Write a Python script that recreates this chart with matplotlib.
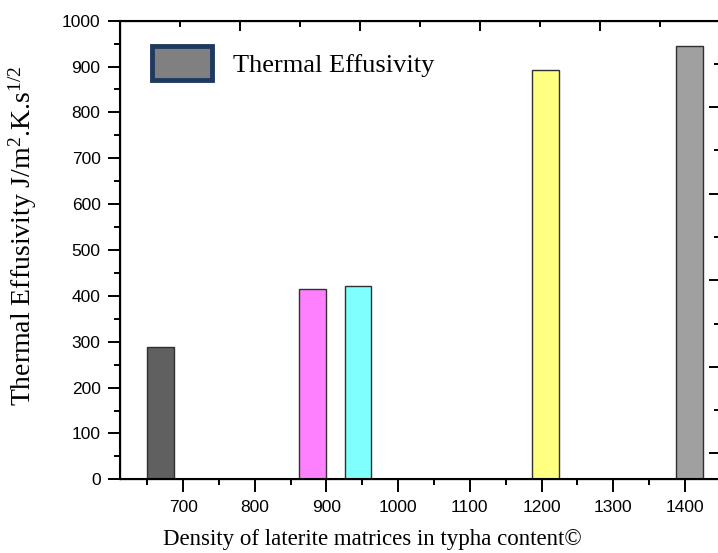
import numpy as np
import matplotlib.pyplot as plt
from matplotlib.patches import Patch

plt.rcParams['mathtext.fontset'] = 'custom'
plt.rcParams['mathtext.rm'] = 'Liberation Serif'
plt.rcParams['mathtext.it'] = 'Liberation Serif:italic'

# density of the matrices (bar centres) and thermal effusivity
density = [669, 881, 944, 1206, 1406]
effusivity = [288, 415, 422, 892, 944]
bar_colors = ['#606060', '#ff80ff', '#80ffff', '#ffff80', '#a0a0a0']
x_ticks = [700, 800, 900, 1000, 1100, 1200, 1300, 1400]
y_ticks = [0, 100, 200, 300, 400, 500, 600, 700, 800, 900, 1000]

serif = 'Liberation Serif'
sans = 'Liberation Sans'

fig = plt.figure(figsize=(7.18, 5.53), dpi=100)
ax = fig.add_axes([120/718, (553-479.3)/553, 600/718, 458.6/553])

ax.bar(density, effusivity, width=37.5, color=bar_colors,
       edgecolor='#303030', linewidth=1, zorder=2)

ax.set_xlim(612, 1449)
ax.set_ylim(0, 1000)
ax.set_xticks(x_ticks)
ax.set_xticks(np.arange(650, 1450, 100), minor=True)
ax.set_yticks(y_ticks)
ax.set_yticks(np.arange(50, 1000, 100), minor=True)
ax.set_xticklabels([str(v) for v in x_ticks], fontfamily=sans, fontsize=12.5)
ax.set_yticklabels([str(v) for v in y_ticks], fontfamily=sans, fontsize=12.5)
ax.tick_params(which='major', direction='out', length=9, width=1.4, pad=5)
ax.tick_params(which='minor', direction='out', length=4.5, width=1.4)
ax.tick_params(axis='x', which='major', pad=6)
for s in ax.spines.values():
    s.set_linewidth(1.5)

ax.set_xlabel('Density of laterite matrices in typha content©',
              fontfamily=serif, fontsize=16.5)
ax.xaxis.set_label_coords(0.42, -0.108)
ax.set_ylabel(r'Thermal Effusivity J/m$^2$.K.s$^{1/2}$',
              fontfamily=serif, fontsize=20)
ax.yaxis.set_label_coords(-0.135, 0.53)

# top and right axes (ticks only, inward)
axt = ax.twiny()
axt.set_xlim(0, 5)
axt.set_xticks([0, 1, 2, 3, 4, 5])
axt.set_xticks(np.arange(0.5, 5, 1), minor=True)
axt.tick_params(which='major', direction='in', length=7, width=1.4, labeltop=False)
axt.tick_params(which='minor', direction='in', length=4, width=1.4)

axr = ax.twinx()
axr.set_ylim(-0.3, 5)
axr.set_yticks([0, 1, 2, 3, 4, 5])
axr.set_yticks(np.arange(0.5, 5, 1), minor=True)
axr.tick_params(which='major', direction='in', length=8, width=1.4, labelright=False)
axr.tick_params(which='minor', direction='in', length=4, width=1.4)

handle = Patch(facecolor='#808080', edgecolor='#1f3a5f', linewidth=3.5)
leg = ax.legend([handle], ['Thermal Effusivity'], loc='upper left',
                bbox_to_anchor=(0.035, 0.968), frameon=False,
                prop={'family': serif, 'size': 19},
                handlelength=2.3, handleheight=1.6, handletextpad=0.8,
                borderaxespad=0)

fig.savefig('out.png', dpi=100)
